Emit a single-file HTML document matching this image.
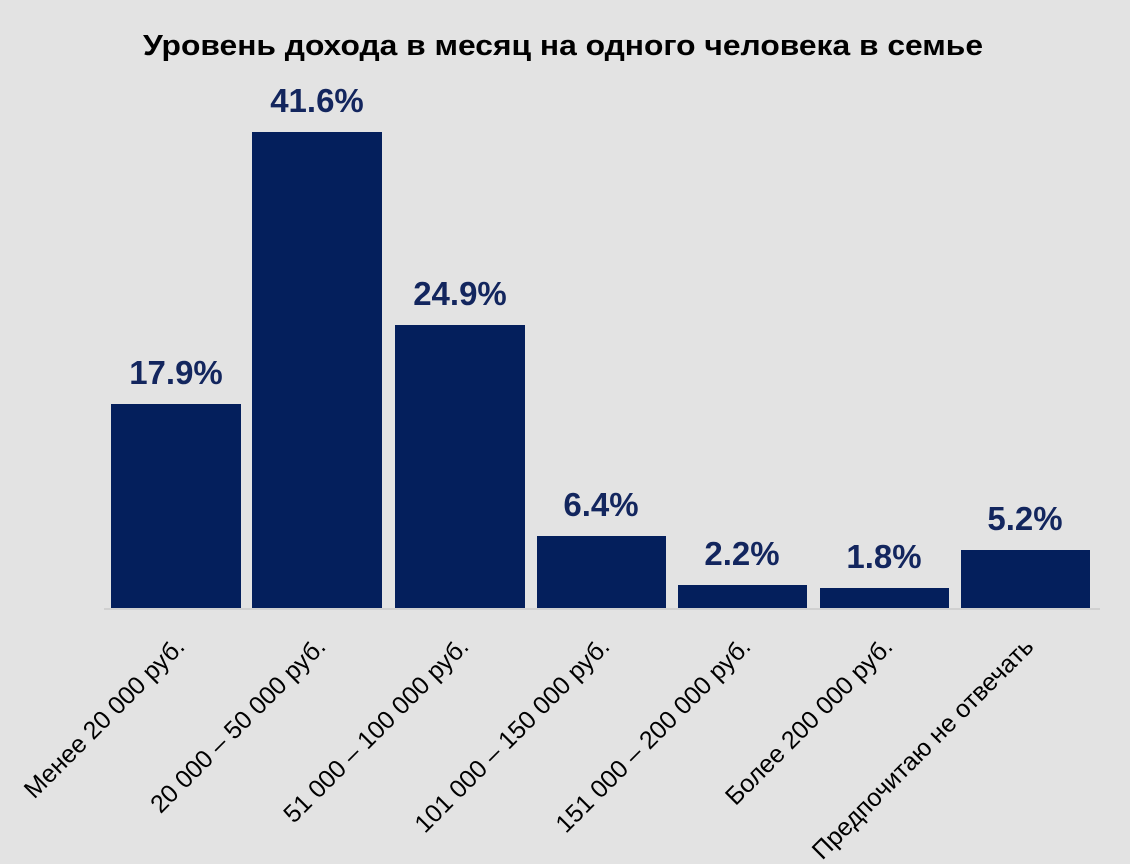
<!DOCTYPE html>
<html><head><meta charset="utf-8"><style>
html,body{margin:0;padding:0;background:#e3e3e3;}
svg{display:block;}
</style></head><body>
<svg width="1130" height="864" viewBox="0 0 1130 864" xmlns="http://www.w3.org/2000/svg">
<rect width="1130" height="864" fill="#e3e3e3"/>
<text x="563" y="55" text-anchor="middle" font-family="Liberation Sans, sans-serif" font-weight="bold" font-size="29" fill="#000" textLength="840" lengthAdjust="spacingAndGlyphs">Уровень дохода в месяц на одного человека в семье</text>
<line x1="104" y1="609" x2="1100" y2="609" stroke="#d0d0d0" stroke-width="2"/>
<g fill="#041f5c">
<rect x="111" y="404" width="130" height="204"/>
<rect x="252" y="132" width="130" height="476"/>
<rect x="395" y="325" width="130" height="283"/>
<rect x="537" y="536" width="129" height="72"/>
<rect x="678" y="585" width="129" height="23"/>
<rect x="820" y="588" width="129" height="20"/>
<rect x="961" y="550" width="129" height="58"/>
</g>
<g font-family="Liberation Sans, sans-serif" font-weight="bold" font-size="33" fill="#13265e" text-anchor="middle">
<text x="176" y="384">17.9%</text>
<text x="317" y="112">41.6%</text>
<text x="460" y="305">24.9%</text>
<text x="601" y="516">6.4%</text>
<text x="742" y="565">2.2%</text>
<text x="884" y="568">1.8%</text>
<text x="1025" y="530">5.2%</text>
</g>
<g font-family="Liberation Sans, sans-serif" font-size="25" fill="#000" text-anchor="end">
<text transform="translate(186,648) rotate(-45)">Менее 20 000 руб.</text>
<text transform="translate(327,648) rotate(-45)">20 000 – 50 000 руб.</text>
<text transform="translate(470,648) rotate(-45)">51 000 – 100 000 руб.</text>
<text transform="translate(611,648) rotate(-45)">101 000 – 150 000 руб.</text>
<text transform="translate(752,648) rotate(-45)">151 000 – 200 000 руб.</text>
<text transform="translate(894,648) rotate(-45)">Более 200 000 руб.</text>
<text transform="translate(1035,648) rotate(-45)">Предпочитаю не отвечать</text>
</g>
</svg>
</body></html>
